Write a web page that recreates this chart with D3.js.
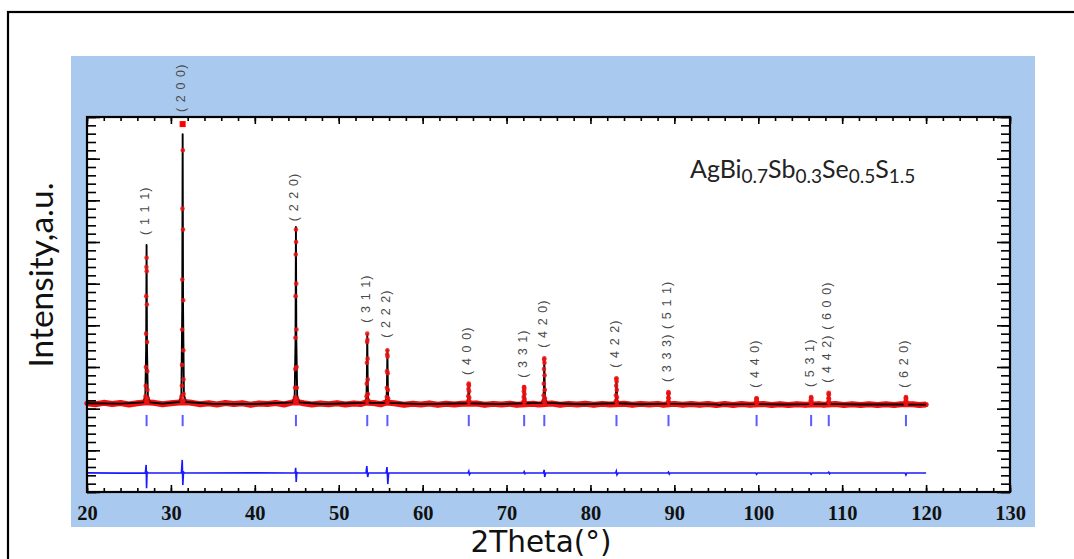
<!DOCTYPE html>
<html><head><meta charset="utf-8">
<script src="https://cdn.jsdelivr.net/npm/d3@7/dist/d3.min.js"></script>
<style>body{margin:0;background:#fff}svg{display:block}</style>
</head><body>
<svg id="chart" width="1074" height="559"></svg>
<script>
// ---------- DATA ----------
const braggPos = [27.1, 31.4, 44.9, 53.4, 55.8, 65.5, 72.1, 74.5, 83.1, 89.3, 99.8, 106.3, 108.4, 117.6];
const hklLabels = ["( 1 1 1)", "( 2 0 0)", "( 2 2 0)", "( 3 1 1)", "( 2 2 2)", "( 4 0 0)", "( 3 3 1)", "( 4 2 0)",
                   "( 4 2 2)", "( 3 3 3) ( 5 1 1)", "( 4 4 0)", "( 5 3 1)", "( 4 4 2) ( 6 0 0)", "( 6 2 0)"];
const labelLevel = [5170, 8120, 5500, 3060, 2700, 1810, 1740, 2460, 1980, 1640, 1500, 1520, 1620, 1500];

const xTickValues = [20, 30, 40, 50, 60, 70, 80, 90, 100, 110, 120, 130];
const formulaParts = [["AgBi", false], ["0.7", true], ["Sb", false], ["0.3", true], ["Se", false], ["0.5", true], ["S", false], ["1.5", true]];

// calculated profile (black line)
const calcPoints = [
  [20,1130],[24,1122],[26.70,1150],[26.95,1310],[27.05,2450],[27.10,4930],[27.15,2450],[27.25,1310],[27.50,1150],
  [29,1120],[31.00,1160],[31.25,1330],[31.35,3380],[31.40,7590],[31.45,3380],[31.55,1330],[31.80,1160],
  [35,1115],[40,1112],[44.50,1150],[44.75,1310],[44.85,2600],[44.90,5360],[44.95,2600],[45.05,1310],[45.30,1150],
  [48,1112],[53.10,1140],[53.30,1250],[53.35,1700],[53.40,2790],[53.45,1700],[53.50,1250],[53.70,1140],
  [55.50,1140],[55.70,1240],[55.75,1565],[55.80,2410],[55.85,1565],[55.90,1240],[56.10,1140],
  [60,1110],[65.25,1130],[65.42,1200],[65.50,1590],[65.58,1200],[65.75,1130],
  [69,1108],[71.85,1130],[72.02,1190],[72.10,1520],[72.18,1190],[72.35,1130],
  [74.20,1140],[74.40,1240],[74.45,1500],[74.50,2210],[74.55,1500],[74.60,1240],[74.85,1140],
  [79,1106],[82.85,1130],[83.02,1210],[83.10,1730],[83.18,1210],[83.35,1130],
  [86,1105],[89.05,1120],[89.22,1170],[89.30,1400],[89.38,1170],[89.55,1120],
  [95,1102],[95.4,1085],[95.6,1102],[99.55,1110],[99.72,1140],[99.80,1250],[99.88,1140],[100.05,1110],
  [103,1100],[106.05,1110],[106.22,1150],[106.30,1280],[106.38,1150],[106.55,1110],
  [108.15,1115],[108.32,1170],[108.40,1380],[108.48,1170],[108.65,1115],
  [112,1100],[117.35,1100],[117.52,1150],[117.60,1280],[117.68,1150],[117.85,1100],[120,1098]
];

// observed points (red)
const obsBackground = [
  [20,1130],[21,1105],[22,1140],[23,1110],[24,1135],[25,1100],[26,1130],[26.8,1150],[27.4,1150],[28,1140],[29,1105],[30,1130],
  [31.0,1150],[31.8,1155],[32.5,1140],[33.5,1105],[34.5,1130],[35.5,1100],[36.5,1135],[37.5,1110],[38.5,1130],[39.5,1095],[40.5,1125],
  [41.5,1110],[42.5,1135],[43.5,1100],[44.5,1150],[45.3,1150],[45.8,1130],[46.8,1100],[47.8,1125],[48.8,1105],[49.8,1130],[50.8,1100],
  [51.8,1125],[52.6,1110],[53.1,1140],[53.7,1140],[54.3,1130],[55.0,1105],[55.5,1140],[56.1,1140],[56.8,1125],[57.8,1095],[58.8,1120],[59.8,1100],[60.8,1125],
  [61.8,1095],[62.8,1120],[63.8,1100],[64.6,1120],[66.4,1125],[67.4,1095],[68.4,1115],[69.4,1100],[70.4,1120],
  [71.2,1095],[73.2,1120],[73.8,1100],[75.4,1125],[76.4,1095],[77.4,1115],[78.4,1100],[79.4,1120],[80.4,1095],
  [81.4,1115],[82.3,1100],[84.0,1120],[85.0,1095],[86.0,1115],[87.0,1100],[88.0,1115],[88.7,1095],[90.0,1115],
  [91.0,1095],[92.0,1112],[93.0,1095],[94.0,1110],[95.0,1090],[96.0,1110],[97.0,1090],[98.0,1110],[99.0,1095],
  [100.6,1110],[101.6,1090],[102.6,1108],[103.6,1090],[104.6,1108],[105.6,1092],[107.2,1108],[107.8,1095],
  [109.2,1110],[110.2,1090],[111.2,1105],[112.2,1088],[113.2,1106],[114.2,1090],[115.2,1105],[116.2,1088],
  [117.0,1104],[118.4,1105],[119.2,1088],[120,1100]
];
const obsPeaks = [
  [26.96,1200],[26.98,1300],[27.00,1550],[27.02,2000],[27.04,2800],[27.06,3700],[27.08,4400],[27.10,4620],[27.12,4300],[27.14,3500],[27.16,2600],[27.18,1900],[27.20,1450],[27.22,1250],[27.24,1170],
  [31.26,1200],[31.28,1300],[31.30,1550],[31.32,2050],[31.34,2900],[31.36,4100],[31.38,5800],[31.40,7830],[31.42,7200],[31.44,5300],[31.46,3600],[31.48,2400],[31.50,1700],[31.52,1350],[31.54,1200],
  [44.76,1180],[44.78,1270],[44.80,1500],[44.82,1950],[44.84,2700],[44.86,3700],[44.88,4700],[44.90,5300],[44.92,5000],[44.94,4000],[44.96,2900],[44.98,2000],[45.00,1500],[45.02,1250],[45.04,1170],
  [53.30,1180],[53.32,1300],[53.34,1600],[53.36,2100],[53.38,2600],[53.40,2800],[53.42,2650],[53.44,2200],[53.46,1700],[53.48,1350],[53.50,1200],
  [55.70,1170],[55.72,1280],[55.74,1500],[55.76,1900],[55.78,2300],[55.80,2400],[55.82,2250],[55.84,1850],[55.86,1450],[55.88,1250],[55.90,1170],
  [65.42,1180],[65.44,1300],[65.46,1470],[65.48,1580],[65.50,1600],[65.52,1550],[65.54,1420],[65.56,1260],[65.58,1170],
  [72.02,1170],[72.04,1280],[72.06,1420],[72.08,1510],[72.10,1520],[72.12,1470],[72.14,1350],[72.16,1230],[72.18,1160],
  [74.40,1180],[74.42,1320],[74.44,1600],[74.46,1950],[74.48,2180],[74.50,2210],[74.52,2100],[74.54,1800],[74.56,1450],[74.58,1250],[74.60,1160],
  [83.02,1180],[83.04,1320],[83.06,1550],[83.08,1710],[83.10,1730],[83.12,1650],[83.14,1450],[83.16,1270],[83.18,1160],
  [89.24,1170],[89.26,1260],[89.28,1370],[89.30,1400],[89.32,1360],[89.34,1250],[89.36,1160],
  [99.74,1140],[99.76,1190],[99.78,1240],[99.80,1250],[99.82,1230],[99.84,1180],[99.86,1130],
  [106.24,1140],[106.26,1200],[106.28,1260],[106.30,1280],[106.32,1250],[106.34,1190],[106.36,1130],
  [108.34,1160],[108.36,1250],[108.38,1350],[108.40,1380],[108.42,1340],[108.44,1240],[108.46,1150],
  [117.54,1130],[117.56,1190],[117.58,1260],[117.60,1280],[117.62,1250],[117.64,1180],[117.66,1120]
];

// difference curve (blue)
const diffPoints = [
  [20,-540],[24,-548],[26.95,-545],[27.05,-350],[27.10,-910],[27.16,-520],[27.30,-545],
  [31.25,-545],[31.35,-230],[31.42,-830],[31.50,-520],[31.65,-545],
  [40,-540],[44.80,-545],[44.87,-420],[44.93,-760],[45.00,-530],[45.15,-545],
  [53.25,-545],[53.35,-380],[53.45,-640],[53.55,-545],
  [55.65,-545],[55.75,-400],[55.85,-810],[55.95,-545],
  [65.40,-545],[65.50,-500],[65.58,-580],[65.70,-545],
  [72.0,-545],[72.1,-510],[72.2,-565],[72.3,-545],
  [74.40,-545],[74.48,-470],[74.55,-640],[74.65,-545],
  [83.0,-545],[83.08,-500],[83.16,-590],[83.3,-545],
  [89.2,-545],[89.3,-520],[89.4,-570],[89.5,-545],
  [99.7,-545],[99.8,-575],[99.9,-545],
  [106.2,-545],[106.3,-575],[106.4,-545],
  [108.3,-545],[108.4,-525],[108.5,-565],[108.6,-545],
  [117.5,-545],[117.6,-590],[117.7,-545],[120,-545]
];
const braggTop = 850, braggBottom = 580;

// ---------- LAYOUT ----------
const svg = d3.select("#chart");
const plot = {left: 87, right: 1010, top: 117, bottom: 492};
const x = d3.scaleLinear().domain([20, 130]).range([plot.left, plot.right]);
const y = d3.scaleLinear().domain([-1000, 8000]).range([plot.bottom, plot.top]);

// outer border (top and left edges visible)
svg.append("rect").attr("x", 8).attr("y", 12).attr("width", 1100).attr("height", 600)
  .attr("fill", "none").attr("stroke", "#000").attr("stroke-width", 2.2);
// blue panel
svg.append("rect").attr("x", 71).attr("y", 56).attr("width", 964).attr("height", 471).attr("fill", "#a9caee");
// plot area
svg.append("rect").attr("x", plot.left).attr("y", plot.top).attr("width", plot.right - plot.left)
  .attr("height", plot.bottom - plot.top).attr("fill", "#fff");

svg.append("clipPath").attr("id", "plotclip").append("rect")
  .attr("x", plot.left - 4).attr("y", plot.top - 10).attr("width", plot.right - plot.left + 8).attr("height", plot.bottom - plot.top + 10);

const g = svg.append("g").attr("clip-path", "url(#plotclip)");
const line = d3.line().x(d => x(d[0])).y(d => y(d[1]));

// observed: red band through background points with dots
g.append("path").datum(obsBackground).attr("d", line).attr("fill", "none")
  .attr("stroke", "#f21212").attr("stroke-width", 6).attr("stroke-linejoin", "round");
g.selectAll("circle.obsbg").data(obsBackground).join("circle").attr("class", "obsbg")
  .attr("cx", d => x(d[0])).attr("cy", d => y(d[1])).attr("r", 2.6).attr("fill", "#ee1111");

// calculated (black)
g.append("path").datum(calcPoints).attr("d", line).attr("fill", "none")
  .attr("stroke", "#000").attr("stroke-width", 1.9).attr("stroke-linejoin", "round");

// observed peak points on top
g.selectAll("circle.obspk").data(obsPeaks).join("circle").attr("class", "obspk")
  .attr("cx", d => x(d[0])).attr("cy", d => y(d[1])).attr("r", 2.3).attr("fill", "#ee1111").attr("opacity", 0.85);
const obsAll = obsBackground.concat(obsPeaks);
const maxObs = d3.greatest(obsAll, d => d[1]);
svg.append("rect").attr("x", x(maxObs[0]) - 3).attr("y", y(maxObs[1]) - 3).attr("width", 6).attr("height", 6).attr("fill", "#ff0000");

// bragg positions
g.selectAll("line.bragg").data(braggPos).join("line").attr("class", "bragg")
  .attr("x1", d => x(d)).attr("x2", d => x(d)).attr("y1", y(braggTop)).attr("y2", y(braggBottom))
  .attr("stroke", "#5a5cff").attr("stroke-width", 2);

// difference
g.append("path").datum(diffPoints).attr("d", line).attr("fill", "none")
  .attr("stroke", "#1a1aff").attr("stroke-width", 1.6);

// ---------- AXES ----------
const minorX = d3.range(20, 130.001, 2);
const majorY = d3.range(-1000, 8000.001, 1000);
const minorY = d3.range(-1000, 8000.001, 200);
function styleAxis(sel) { sel.select(".domain").remove(); sel.selectAll("line").attr("stroke", "#000").attr("stroke-width", 1.6); }

svg.append("g").attr("transform", `translate(0,${plot.bottom})`)
  .call(d3.axisBottom(x).tickValues(minorX).tickSize(-4).tickFormat("")).call(styleAxis);
svg.append("g").attr("transform", `translate(0,${plot.bottom})`)
  .call(d3.axisBottom(x).tickValues(xTickValues).tickSize(-7).tickFormat("")).call(styleAxis);
svg.append("g").attr("transform", `translate(0,${plot.top})`)
  .call(d3.axisTop(x).tickValues(minorX).tickSize(-4).tickFormat("")).call(styleAxis);
svg.append("g").attr("transform", `translate(0,${plot.top})`)
  .call(d3.axisTop(x).tickValues(xTickValues).tickSize(-7).tickFormat("")).call(styleAxis);
svg.append("g").attr("transform", `translate(${plot.left},0)`)
  .call(d3.axisLeft(y).tickValues(minorY).tickSize(-9).tickFormat("")).call(styleAxis);
svg.append("g").attr("transform", `translate(${plot.left},0)`)
  .call(d3.axisLeft(y).tickValues(majorY).tickSize(-13).tickFormat("")).call(styleAxis);
svg.append("g").attr("transform", `translate(${plot.right},0)`)
  .call(d3.axisRight(y).tickValues(minorY).tickSize(-9).tickFormat("")).call(styleAxis);
svg.append("g").attr("transform", `translate(${plot.right},0)`)
  .call(d3.axisRight(y).tickValues(majorY).tickSize(-13).tickFormat("")).call(styleAxis);

// tick labels
const xl = svg.append("g").attr("transform", `translate(0,${plot.bottom})`)
  .call(d3.axisBottom(x).tickValues(xTickValues).tickSize(0).tickPadding(13).tickFormat(d3.format("d")));
xl.select(".domain").remove();
xl.selectAll("text").attr("font-family", "'Liberation Serif', serif").attr("font-weight", "bold")
  .attr("font-size", 20.5).attr("fill", "#111");

// frame
svg.append("rect").attr("x", plot.left).attr("y", plot.top).attr("width", plot.right - plot.left)
  .attr("height", plot.bottom - plot.top).attr("fill", "none").attr("stroke", "#000").attr("stroke-width", 2.2);

// hkl labels
svg.selectAll("text.hkl").data(braggPos).join("text").attr("class", "hkl")
  .attr("transform", (d, i) => `translate(${x(d) - 2},${y(labelLevel[i])}) rotate(-90)`)
  .attr("dy", "0.35em").attr("font-family", "'Liberation Sans', Arial, sans-serif").attr("font-size", 12.5)
  .attr("letter-spacing", 1.1).attr("fill", "#4a4a4a").text((d, i) => hklLabels[i]);

// formula
const ft = svg.append("text").attr("x", 690).attr("y", 178).attr("font-family", "Lato, 'Open Sans', sans-serif")
  .attr("font-size", 25).attr("fill", "#222");
formulaParts.forEach(([t, sub]) => {
  ft.append("tspan").attr("font-size", sub ? 19 : 25).attr("dy", sub ? 5 : -5).text(t);
});
ft.select("tspan").attr("dy", null);

// axis titles
svg.append("text").attr("transform", "translate(53,275) rotate(-90)").attr("text-anchor", "middle")
  .attr("font-family", "Lato, 'Open Sans', sans-serif").attr("font-size", 33.5).attr("fill", "#111").text("Intensity,a.u.");
svg.append("text").attr("x", 541).attr("y", 552).attr("text-anchor", "middle")
  .attr("font-family", "'DejaVu Sans', sans-serif").attr("font-size", 29.5).attr("fill", "#111").text("2Theta(°)");
</script>
</body></html>
